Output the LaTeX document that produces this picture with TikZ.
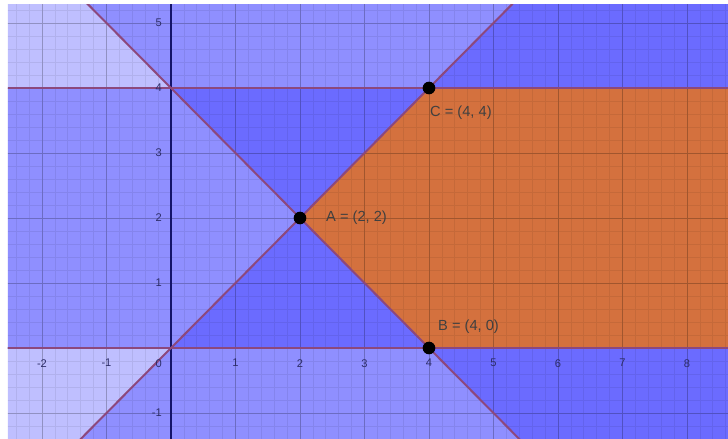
\documentclass[tikz,border=0pt]{standalone}
\usepackage{fontspec}
\setmainfont{Liberation Sans}
\usepackage{xcolor}
\usetikzlibrary{positioning}

\definecolor{halfplane}{RGB}{0,0,255}
\definecolor{feasible}{RGB}{212,113,62}
\definecolor{boundline}{RGB}{140,72,125}
\definecolor{axisline}{RGB}{20,20,105}
\definecolor{ticktext}{RGB}{45,45,105}

\tikzset{
  region/.style={fill=halfplane, fill opacity=0.25},
  bound/.style={boundline, line width=1.7pt},
  ticklabel/.style={text=ticktext, inner sep=0pt, font=\fontsize{9.5}{11}\selectfont},
  ptlabel/.style={text=black!75, inner sep=0pt, font=\fontsize{12.5}{15}\selectfont}
}

\begin{document}
\begin{tikzpicture}[x=1.935cm, y=1.95cm]
% white margin round the graph
\fill[white] (-2.651,-1.385) rectangle (8.636,5.354);
\useasboundingbox (-2.651,-1.385) rectangle (8.636,5.354);

\coordinate (A) at (2,2);
\coordinate (B) at (4,0);
\coordinate (C) at (4,4);

\begin{scope}
\clip (-2.527,-1.385) rectangle (8.636,5.277);
% half-planes of the four inequalities
\fill[region] (-3,-2) rectangle (9,4);               % y <= 4
\fill[region] (-3,0) rectangle (9,6);                % y >= 0
\fill[region] (-3,7) -- (9,-5) -- (9,7) -- cycle;    % x + y >= 4
\fill[region] (-3,-3) -- (9,9) -- (9,-3) -- cycle;   % y <= x

% feasible region
\fill[feasible] (A) -- (C) -- (9,4) -- (9,0) -- (B) -- cycle;

% grid
\draw[black, opacity=0.07, line width=0.6pt, step=0.2] (-2.6,-1.4) grid (8.8,5.4);
\draw[black, opacity=0.18, line width=0.8pt, step=1] (-2.6,-1.4) grid (8.8,5.4);

% axes
\draw[axisline, line width=0.9pt] (-2.6,0) -- (8.8,0);
\draw[axisline, line width=0.9pt] (0,-1.4) -- (0,5.4);

% boundary lines
\draw[bound] (-3,4) -- (9,4);
\draw[bound] (-3,0) -- (9,0);
\draw[bound] (-3,-3) -- (9,9);
\draw[bound] (-3,7) -- (9,-5);
\end{scope}

% tick labels
\foreach \x in {-2,-1,1,2,3,4,5,6,7,8}
  \node[ticklabel, anchor=north] (xt\x) at (\x,-0.17) {\x};
\foreach \y in {-1,1,2,3,4,5}
  \node[ticklabel, anchor=east] (yt\y) at (-0.14,\y) {\y};
\node[ticklabel, anchor=north east] (ot) at (-0.14,-0.17) {0};

% corner points
\foreach \p in {A,B,C}
  \fill[black] (\p) circle (0.19cm);
\node[ptlabel, right=0.78cm of A, anchor=west] (labA) {A = (2, 2)};
\node[ptlabel, above right=0.63cm and 0.27cm of B, anchor=west] (labB) {B = (4, 0)};
\node[ptlabel, below right=0.75cm and 0.03cm of C, anchor=west] (labC) {C = (4, 4)};
\end{tikzpicture}
\end{document}
